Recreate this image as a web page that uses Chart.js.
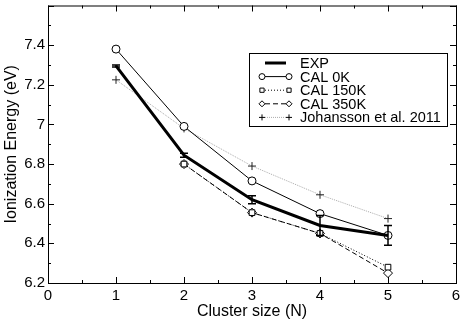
<!DOCTYPE html>
<html lang="en">
<head>
<meta charset="UTF-8">
<title>Ionization Energy vs Cluster size</title>
<script src="https://cdn.jsdelivr.net/npm/chart.js"></script>
<style>
  body { margin: 0; background: #fff; }
  #wrap { width: 463px; height: 321px; }
</style>
</head>
<body>
<div id="wrap"><canvas id="ieChart" width="463" height="321"></canvas></div>
<script>
  // data
  const clusterSize = [1, 2, 3, 4, 5];
  const expIE     = [7.295, 6.845, 6.62, 6.49, 6.44];
  const expErr    = [0.005, 0.01, 0.02, 0.05, 0.05];
  const cal0K     = [7.38, 6.99, 6.715, 6.55, 6.44];
  const cal150K   = [null, 6.80, 6.555, 6.45, 6.28];
  const cal350K   = [null, 6.80, 6.555, 6.45, 6.25];
  const johansson = [7.225, 6.98, 6.79, 6.645, 6.525];
  const legendLabels = ['EXP', 'CAL 0K', 'CAL 150K', 'CAL 350K', 'Johansson et al. 2011'];

  const pts = arr => clusterSize.map((x, i) => ({ x: x, y: arr[i] }));
  const FONT = 'Liberation Sans, Arial, sans-serif';

  // frame + inward ticks on all four sides
  const framePlugin = {
    id: 'frame',
    afterDraw(chart) {
      const { ctx, chartArea: a, scales: { x, y } } = chart;
      ctx.save();
      ctx.strokeStyle = '#000';
      ctx.lineWidth = 1;
      ctx.strokeRect(a.left + 0.5, a.top + 0.5, a.right - a.left, a.bottom - a.top);
      ctx.beginPath();
      for (let v = 0; v <= 6.001; v += 0.5) {
        const px = Math.round(x.getPixelForValue(v)) + 0.5;
        const len = Math.abs(v - Math.round(v)) < 0.01 ? 6 : 3;
        ctx.moveTo(px, a.bottom); ctx.lineTo(px, a.bottom - len);
        ctx.moveTo(px, a.top); ctx.lineTo(px, a.top + len);
      }
      for (let k = 62; k <= 76; k++) {
        const v = k / 10;
        const py = Math.round(y.getPixelForValue(v)) + 0.5;
        const len = k % 2 === 0 ? 6 : 3;
        ctx.moveTo(a.left, py); ctx.lineTo(a.left + len, py);
        ctx.moveTo(a.right, py); ctx.lineTo(a.right - len, py);
      }
      ctx.stroke();
      ctx.restore();
    }
  };

  // error bars on EXP
  const errPlugin = {
    id: 'errbars',
    afterDatasetsDraw(chart) {
      const { ctx, scales: { x, y } } = chart;
      ctx.save();
      ctx.strokeStyle = '#000';
      ctx.lineWidth = 1.5;
      clusterSize.forEach((cx, i) => {
        const px = Math.round(x.getPixelForValue(cx));
        const y1 = y.getPixelForValue(expIE[i] + expErr[i]);
        const y2 = y.getPixelForValue(expIE[i] - expErr[i]);
        ctx.beginPath();
        ctx.moveTo(px, y1); ctx.lineTo(px, y2);
        ctx.moveTo(px - 4, y1); ctx.lineTo(px + 4, y1);
        ctx.moveTo(px - 4, y2); ctx.lineTo(px + 4, y2);
        ctx.stroke();
      });
      ctx.restore();
    }
  };

  // legend box drawn inside the plot
  const legendPlugin = {
    id: 'boxLegend',
    afterDraw(chart) {
      const { ctx } = chart;
      const bx = 249, by = 53, bw = 198, bh = 73;
      ctx.save();
      ctx.fillStyle = '#fff';
      ctx.fillRect(bx, by, bw, bh);
      ctx.strokeStyle = '#000';
      ctx.lineWidth = 1;
      ctx.strokeRect(bx + 0.5, by + 0.5, bw, bh);
      const x1 = 262, x2 = 289;
      chart.data.datasets.forEach((ds, i) => {
        const yy = by + 10 + i * 13.6;
        ctx.beginPath();
        ctx.strokeStyle = ds.borderColor;
        ctx.lineWidth = ds.borderWidth;
        ctx.setLineDash(ds.borderDash || []);
        ctx.moveTo(x1 + 3, yy); ctx.lineTo(x2 - 3, yy);
        ctx.stroke();
        ctx.setLineDash([]);
        if (ds.pointRadius > 0) {
          ctx.fillStyle = '#fff';
          ctx.strokeStyle = '#000';
          ctx.lineWidth = 1;
          [x1, x2].forEach(px => {
            Chart.helpers.drawPoint(ctx, {
              pointStyle: ds.pointStyle, radius: 3, rotation: 0, borderWidth: 1
            }, px, yy);
          });
        }
        ctx.fillStyle = '#000';
        ctx.font = '14.5px ' + FONT;
        ctx.textBaseline = 'middle';
        ctx.fillText(legendLabels[i], 300, yy + 1);
      });
      ctx.restore();
    }
  };

  new Chart(document.getElementById('ieChart').getContext('2d'), {
    type: 'line',
    data: {
      datasets: [
        { label: legendLabels[0], data: pts(expIE), borderColor: '#000', borderWidth: 3,
          pointRadius: 0, pointStyle: false },
        { label: legendLabels[1], data: pts(cal0K), borderColor: '#000', borderWidth: 1,
          pointStyle: 'circle', pointRadius: 4, pointBackgroundColor: '#fff', pointBorderColor: '#000' },
        { label: legendLabels[2], data: pts(cal150K), borderColor: '#000', borderWidth: 1, borderDash: [1, 2],
          pointStyle: 'rect', pointRadius: 4, pointBackgroundColor: '#fff', pointBorderColor: '#000' },
        { label: legendLabels[3], data: pts(cal350K), borderColor: '#000', borderWidth: 1, borderDash: [5, 3],
          pointStyle: 'rectRot', pointRadius: 4.5, pointBackgroundColor: '#fff', pointBorderColor: '#000' },
        { label: legendLabels[4], data: pts(johansson), borderColor: '#aaa', borderWidth: 1, borderDash: [1, 1],
          pointStyle: 'cross', pointRadius: 4, pointBackgroundColor: '#fff', pointBorderColor: '#222' }
      ]
    },
    options: {
      responsive: false,
      animation: false,
      spanGaps: false,
      layout: { padding: { top: 3, right: 7, left: 0, bottom: 0 } },
      plugins: { legend: { display: false }, tooltip: { enabled: false } },
      elements: { line: { tension: 0 }, point: { borderWidth: 1 } },
      scales: {
        x: {
          type: 'linear', min: 0, max: 6,
          grid: { display: false, drawTicks: false },
          border: { display: false },
          ticks: { stepSize: 1, padding: 4, color: '#000', font: { family: FONT, size: 15 }, maxRotation: 0 },
          title: { display: true, text: 'Cluster size (N)', color: '#000', font: { family: FONT, size: 16 }, padding: { top: 0, bottom: 0 } },
          afterFit(s) { s.height = 38; s.paddingLeft = 0; s.paddingRight = 0; }
        },
        y: {
          min: 6.2, max: 7.6,
          grid: { display: false, drawTicks: false },
          border: { display: false },
          ticks: {
            stepSize: 0.2, padding: 3, color: '#000', font: { family: FONT, size: 15 },
            callback: v => (Math.abs(v - 7.6) < 0.01 ? '' : String(Number(v.toFixed(1))))
          },
          title: { display: true, text: 'Ionization Energy (eV)', color: '#000', font: { family: FONT, size: 16 }, padding: { top: 2, bottom: 0 } },
          afterFit(s) { s.width = 48; s.paddingTop = 0; s.paddingBottom = 0; }
        }
      }
    },
    plugins: [framePlugin, errPlugin, legendPlugin]
  });
</script>
</body>
</html>
